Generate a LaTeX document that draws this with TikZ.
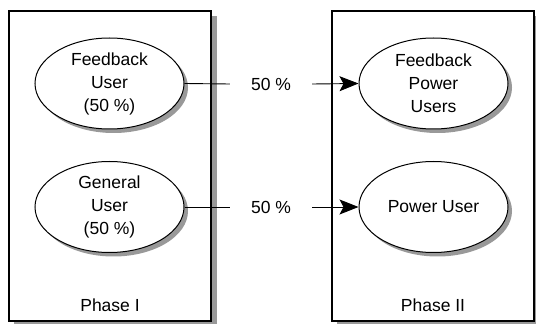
\documentclass[tikz,border=0pt]{standalone}
\usepackage{fontspec}
\setmainfont{Liberation Sans}
\usetikzlibrary{shapes.geometric,arrows.meta}
\definecolor{shadowgrey}{rgb}{0.6,0.6,0.6}
\tikzset{
  phasebox/.style={draw, line width=1.8pt, fill=white, rectangle,
    minimum width=202pt, minimum height=310pt, inner sep=0pt},
  usernode/.style={ellipse, draw, line width=1pt, fill=white,
    minimum width=149pt, minimum height=91pt, inner sep=0pt,
    align=center, font=\fontsize{17.5}{23}\selectfont},
  share/.style={font=\fontsize{17.5}{21}\selectfont, inner xsep=21pt, inner ysep=0pt},
  phaselabel/.style={font=\fontsize{17.5}{21}\selectfont, inner sep=0pt},
  link/.style={line width=0.9pt},
  flow/.style={line width=0.9pt, -{Stealth[length=19pt, width=15pt, inset=4pt]}},
  castshadow/.style={fill=shadowgrey, draw=none},
}
\begin{document}
\begin{tikzpicture}[x=1pt, y=1pt]
  \path[use as bounding box] (0,0) rectangle (536,324);
  % the two phase panels with their shadows
  \path[castshadow] (14,-4) rectangle (217,308);
  \path[castshadow] (337,-4) rectangle (540,308);
  \node[phasebox] (p1) at (110,158) {};
  \node[phasebox] (p2) at (433,158) {};
  \node[phaselabel] (p1lab) at (110,19) {Phase I};
  \node[phaselabel] (p2lab) at (433,19) {Phase II};
  % user groups with their shadows
  \path[castshadow] (113.5,236.5) ellipse [x radius=74.5, y radius=45.5];
  \path[castshadow] (113.5,113) ellipse [x radius=74.5, y radius=45.5];
  \path[castshadow] (437.5,236.5) ellipse [x radius=74.5, y radius=45.5];
  \path[castshadow] (437.5,113) ellipse [x radius=74.5, y radius=45.5];
  \node[usernode] (fu)  at (109.5,240.5) {Feedback\\User\\(50 \%)};
  \node[usernode] (gu)  at (109.5,117)   {General\\User\\(50 \%)};
  \node[usernode] (fpu) at (433.5,240.5) {Feedback\\Power\\Users};
  \node[usernode] (pu)  at (433.5,117)   {Power User};
  % transitions with their shares
  \node[share] (s1) at (271,240) {50 \%};
  \node[share] (s2) at (271,117) {50 \%};
  \draw[link] (fu.east) -- (s1.west);
  \draw[flow] (s1.east) -- (fpu.west);
  \draw[link] (gu.east) -- (s2.west);
  \draw[flow] (s2.east) -- (pu.west);
\end{tikzpicture}
\end{document}
